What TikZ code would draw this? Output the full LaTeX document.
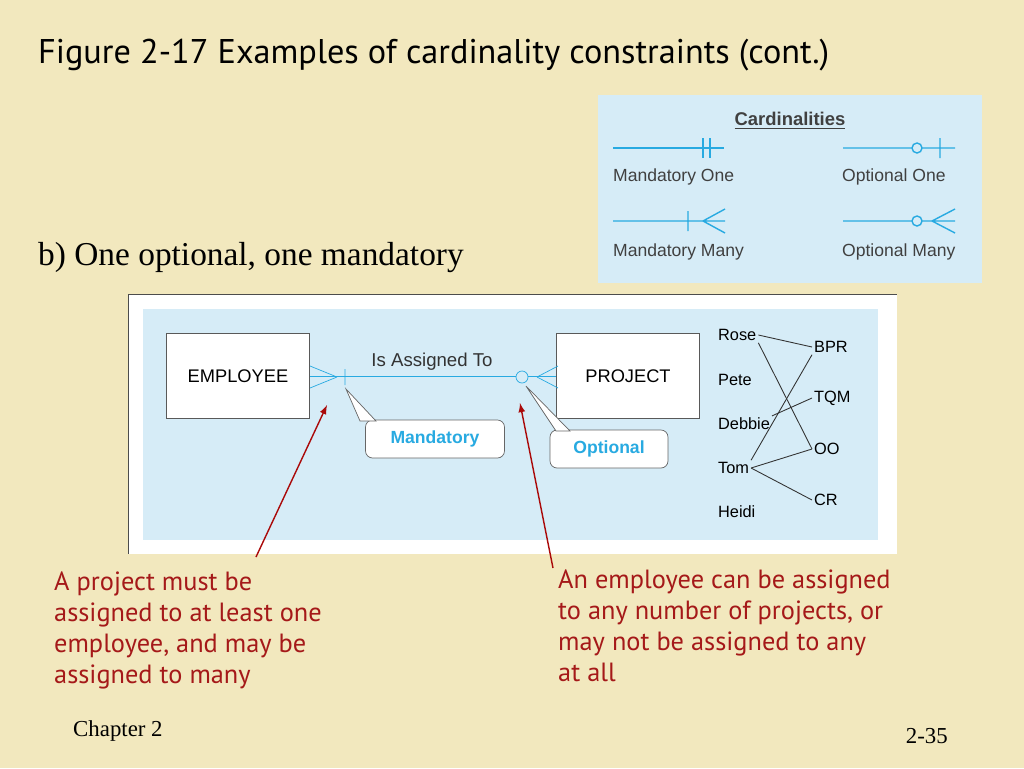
\documentclass[tikz,border=0pt]{standalone}
\usepackage{fontspec}
\setmainfont{Liberation Serif}
\setsansfont{Liberation Sans}
\newfontfamily\titlefont{PT Sans}
\usetikzlibrary{positioning, shapes.geometric, arrows}
\definecolor{slide}{RGB}{242,232,190}
\definecolor{paleblue}{RGB}{214,236,247}
\definecolor{erblue}{RGB}{40,170,225}
\definecolor{darkred}{RGB}{170,10,10}
\definecolor{notered}{RGB}{165,25,25}
\newcommand{\fs}[1]{\fontsize{#1}{1.2\dimexpr#1pt\relax}\selectfont}
\tikzset{
  entity/.style={draw=gray!70!black,fill=white,minimum width=2.86cm,minimum height=1.7cm,font=\sffamily\fs{10.4}},
  callout/.style={draw=gray!80!black,fill=white,rounded corners=4pt,font=\sffamily\fs{10}\bfseries,text=erblue},
  who/.style={anchor=west,font=\sffamily\fs{9.3},inner sep=1pt},
  legend/.style={anchor=west,font=\sffamily\fs{10},text=black!75,inner sep=1pt},
  note/.style={anchor=north west,align=left,text=notered,font=\titlefont\fontsize{15}{17.6}\selectfont},
  card/.style={erblue,thick},
  pointer/.style={-latex,darkred,thick},
}
\tikzstyle{link} = [black!80, line width=.5pt]
\begin{document}
\begin{tikzpicture}[x=0.02cm,y=-0.02cm]
  \useasboundingbox (0,0) rectangle (1024,768);
  \fill[slide] (0,0) rectangle (1024,768);
  % title and subtitle
  \node[anchor=west,font=\titlefont\fs{19.5}] (title) at (32,55) {Figure 2-17 Examples of cardinality constraints (cont.)};
  \node[anchor=west,font=\fs{19}] (sub) at (32,258) {b) One optional, one mandatory};
  % legend
  \fill[paleblue] (598,95) rectangle (982,283);
  \node[font=\sffamily\fs{10.5}\bfseries,text=black!75] (cardtitle) at (790,121) {\underline{Cardinalities}};
  \draw[card] (613,148) -- (724,148) (703,138) -- (703,158) (710,138) -- (710,158);
  \draw[card] (843,148) -- (912,148) (922,148) -- (955,148) (917,148) circle (5) (940,138) -- (940,158);
  \draw[card] (613,221) -- (725,221) (688,211) -- (688,231) (703,221) -- (725,209) (703,221) -- (725,233);
  \draw[card] (843,221) -- (912,221) (922,221) -- (955,221) (917,221) circle (5) (932,221) -- (955,209) (932,221) -- (955,233);
  \node[legend] (mone) at (611,177) {Mandatory One};
  \node[legend] (oone) at (840,177) {Optional One};
  \node[legend] (mmany) at (611,252) {Mandatory Many};
  \node[legend] (omany) at (840,252) {Optional Many};
  % diagram panel
  \fill[white] (128,294) rectangle (897,554);
  \draw[gray!60!black] (128,294) -- (897,294) (128,294) -- (128,554);
  \fill[paleblue] (143,309) rectangle (878,540);
  \node[entity] (emp) at (238,376) {EMPLOYEE};
  \node[entity] (proj) at (628,376) {PROJECT};
  \draw[card,thin] (emp.east) -- (proj.west);
  \draw[card,thin] (337,377) -- (310,366) (337,377) -- (310,388) (345,369) -- (345,385);
  \draw[card,thin,fill=paleblue] (522,377) circle (6);
  \draw[card,thin] (537,377) -- (558,366) (537,377) -- (558,388);
  \node[font=\sffamily\fs{10.6},text=black!80] (rel) at (432,362) {Is Assigned To};
  \node[callout,minimum width=2.78cm,minimum height=.76cm] (mand) at (435,439) {Mandatory};
  \node[callout,minimum width=2.36cm,minimum height=.76cm] (opt) at (609,449) {Optional};
  \draw[gray!80!black,fill=white] (346,389) -- (376,421) -- (360,421) -- cycle;
  \draw[gray!80!black,fill=white] (526,386) -- (556,431) -- (570,431) -- cycle;
  % instances
  \node[who] (rose) at (716,335) {Rose};
  \node[who] (pete) at (716,380) {Pete};
  \node[who] (debbie) at (716,424) {Debbie};
  \node[who] (tom) at (716,468) {Tom};
  \node[who] (heidi) at (716,512) {Heidi};
  \node[who] (bpr) at (812,347) {BPR};
  \node[who] (tqm) at (812,398) {TQM};
  \node[who] (oo) at (812,449) {OO};
  \node[who] (cr) at (812,500) {CR};
  \draw[link] (rose.east) -- (bpr.west);
  \draw[link] (rose.south east) -- (oo.west);
  \draw[link] (tom.north east) -- (bpr.south west);
  \draw[link] (debbie.north east) -- (tqm.west);
  \draw[link] (tom.east) -- (oo.west);
  \draw[link] (tom.east) -- (cr.west);
  % notes
  \coordinate (mtip) at (327,405);
  \coordinate (otip) at (520,403);
  \node[note] (left) at (48,566) {A project must be\\assigned to at least one\\employee, and may be\\assigned to many};
  \node[note] (right) at (552,564) {An employee can be assigned\\to any number of projects, or\\may not be assigned to any\\at all};
  \draw[pointer] (256,557) -- (mtip);
  \draw[pointer] (553,568) -- (otip);
  % footer
  \node[anchor=west,font=\fs{13}] (chap) at (67,731) {Chapter 2};
  \node[anchor=east,font=\fs{13}] (page) at (954,736) {2-35};
\end{tikzpicture}
\end{document}
